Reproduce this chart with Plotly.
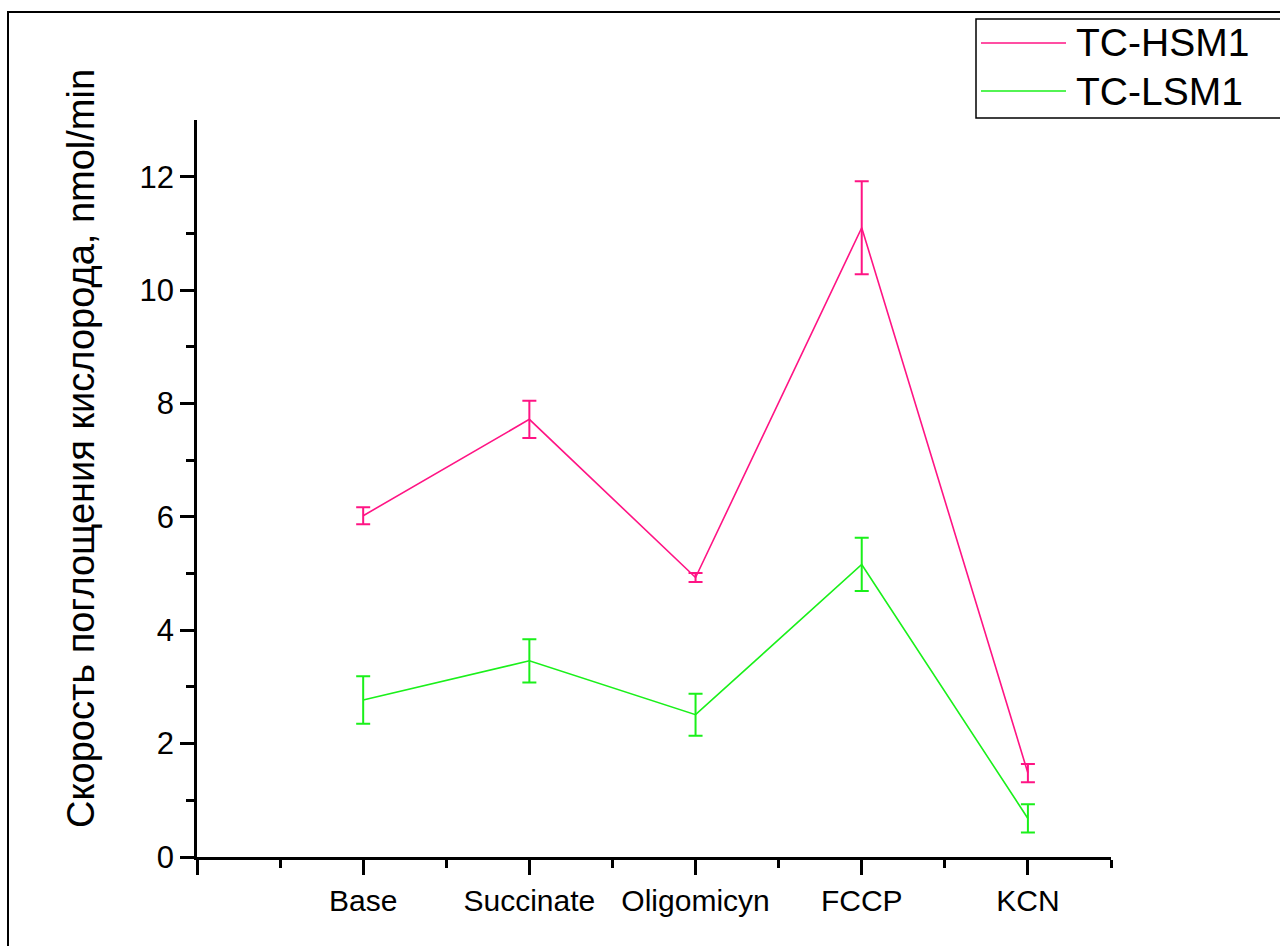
import plotly.graph_objects as go

categories = ["Base", "Succinate", "Oligomicyn", "FCCP", "KCN"]
x_pos = [1, 2, 3, 4, 5]
hsm1 = [6.02, 7.72, 4.93, 11.10, 1.48]
hsm1_err = [0.15, 0.33, 0.08, 0.82, 0.16]
lsm1 = [2.77, 3.46, 2.51, 5.16, 0.68]
lsm1_err = [0.42, 0.38, 0.37, 0.47, 0.25]
series_names = ["TC-HSM1", "TC-LSM1"]
y_title = "Скорость поглощения кислорода, nmol/min"
colors = ["#FF1484", "#1AF01A"]

W, H = 1280, 946
L, R, T, B = 197, 169, 120, 89
pw, ph = W - L - R, H - T - B

def px(x):
    return (x - L) / pw

def py(y):
    return (H - B - y) / ph

fig = go.Figure()
for name, vals, errs, col in [(series_names[0], hsm1, hsm1_err, colors[0]),
                              (series_names[1], lsm1, lsm1_err, colors[1])]:
    fig.add_trace(go.Scatter(
        x=x_pos, y=vals, mode="lines", name=name,
        line=dict(color=col, width=1.6),
        error_y=dict(type="data", array=errs, visible=True, color=col,
                     thickness=2, width=7),
        showlegend=False,
    ))

fig.update_xaxes(
    range=[0, 5.5], tickmode="array", tickvals=[0] + x_pos,
    ticktext=[""] + categories,
    tickfont=dict(family="Liberation Sans, Arial", size=30, color="black"),
    showline=True, linecolor="black", linewidth=2.5, ticks="outside",
    ticklen=15, tickwidth=2.5, tickcolor="black", showgrid=False, zeroline=False,
    minor=dict(tickvals=[0.5, 1.5, 2.5, 3.5, 4.5, 5.5], ticks="outside", ticklen=8,
               tickwidth=2.5, tickcolor="black"),
    ticklabelstandoff=0,
)
fig.update_yaxes(
    range=[0, 13], tickmode="array", tickvals=[0, 2, 4, 6, 8, 10, 12],
    tickfont=dict(family="Liberation Sans, Arial", size=31, color="black"),
    showline=True, linecolor="black", linewidth=2.5, ticks="outside",
    ticklen=14, tickwidth=2.5, tickcolor="black", showgrid=False, zeroline=False,
    minor=dict(tickvals=[1, 3, 5, 7, 9, 11], ticks="outside", ticklen=8,
               tickwidth=2.5, tickcolor="black"),
    ticklabelstandoff=0,
)

shapes = []
# outer frame
shapes.append(dict(type="rect", xref="paper", yref="paper",
                   x0=px(8), x1=px(1290), y0=py(960), y1=py(12),
                   line=dict(color="black", width=2), fillcolor="rgba(0,0,0,0)"))
# legend box
shapes.append(dict(type="rect", xref="paper", yref="paper",
                   x0=px(976), x1=px(1290), y0=py(118), y1=py(19),
                   line=dict(color="black", width=1.5), fillcolor="white"))
annotations = [dict(x=px(81), y=py(449), xref="paper", yref="paper", text=y_title,
                    textangle=-90, showarrow=False, xanchor="center", yanchor="middle",
                    font=dict(family="Liberation Sans, Arial", size=38, color="black"))]
for i, (name, col) in enumerate(zip(series_names, colors)):
    yy = 43 + i * 48
    shapes.append(dict(type="line", xref="paper", yref="paper",
                       x0=px(981), x1=px(1066), y0=py(yy), y1=py(yy),
                       line=dict(color=col, width=1.6)))
    annotations.append(dict(x=px(1074), y=py(yy), xref="paper", yref="paper",
                            text=name, showarrow=False, xanchor="left", yanchor="middle",
                            font=dict(family="Liberation Sans, Arial", size=39, color="black")))

fig.update_layout(
    width=W, height=H, margin=dict(l=L, r=R, t=T, b=B),
    paper_bgcolor="white", plot_bgcolor="white",
    shapes=shapes, annotations=annotations, showlegend=False,
)
fig.write_html("out.html")
